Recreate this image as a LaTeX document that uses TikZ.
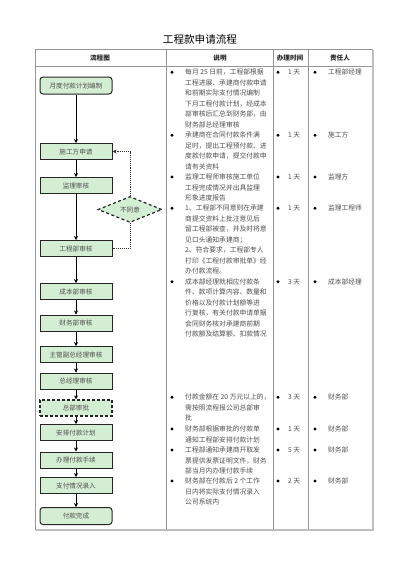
\documentclass[tikz,border=0pt]{standalone}
\usepackage{fontspec}
\setmainfont{Liberation Serif}
\newfontfamily\cjk{Noto Sans CJK SC}
\usetikzlibrary{shapes.geometric,arrows.meta}
\definecolor{nodefill}{RGB}{212,238,212}
\definecolor{txtgray}{RGB}{80,80,80}
\definecolor{tblgray}{RGB}{150,150,150}
\tikzset{
  flowbox/.style={draw=black!85, line width=1pt, fill=nodefill, rectangle,
    minimum width=72pt, minimum height=16pt, inner sep=0pt,
    text=txtgray, font=\cjk\fontsize{6.6}{7}\selectfont},
  roundbox/.style={flowbox, rounded corners=3pt, minimum height=17pt},
  dashbox/.style={flowbox, dash pattern=on 3pt off 2pt, line width=1.2pt},
  decision/.style={diamond, draw=black!85, fill=nodefill, line width=1.2pt,
    dash pattern=on 3pt off 2.5pt, minimum width=64pt, minimum height=25pt,
    inner sep=0pt, text=txtgray, font=\cjk\fontsize{6.6}{7}\selectfont},
  flowarrow/.style={-{Stealth[length=4pt,width=4pt]}, line width=1pt, black},
  backline/.style={densely dotted, line width=0.9pt, black!80},
  desc/.style={anchor=north west, inner sep=0pt, align=left, text=txtgray,
    font=\cjk\fontsize{6.8}{10.5}\selectfont},
  cell/.style={inner sep=0pt, text=txtgray, font=\cjk\fontsize{6.7}{8}\selectfont},
  head/.style={inner sep=0pt, text=black!85, font=\cjk\bfseries\fontsize{6.6}{7}\selectfont},
  bul/.style={fill=black}
}
\begin{document}
\begin{tikzpicture}[x=1pt,y=-1pt]
\useasboundingbox (0,0) rectangle (400,566);
\fill[white] (0,0) rectangle (400,566);
% title
\node[inner sep=0pt, font=\cjk\fontsize{10.6}{12}\selectfont] (title) at (200,39) {工程款申请流程};
% table
\draw[tblgray, line width=0.7pt] (35,49) rectangle (372,529);
\draw[tblgray, line width=0.7pt] (35,66) -- (372,66);
\draw[tblgray, line width=0.7pt] (166,49) -- (166,529);
\draw[tblgray, line width=0.7pt] (273,49) -- (273,529);
\draw[tblgray, line width=0.7pt] (308,49) -- (308,529);
\draw[black!25, line width=1.2pt] (36,530) -- (373,530) -- (373,50);
\node[head] (h1) at (100,58) {流程图};
\node[head] (h2) at (220,58) {说明};
\node[head] (h3) at (290,58) {办理时间};
\node[head] (h4) at (340,58) {责任人};
% flow nodes
\node[roundbox] (n1) at (76,85.5) {月度付款计划编制};
\node[flowbox] (n2) at (76,151.5) {施工方申请};
\node[flowbox] (n3) at (76,185.5) {监理审核};
\node[decision] (d) at (130,209.5) {不同意};
\node[flowbox] (n4) at (76,248.5) {工程部审核};
\node[flowbox] (n5) at (76,291.5) {成本部审核};
\node[flowbox] (n6) at (76,323) {财务部审核};
\node[flowbox] (n7) at (76,354.5) {主管副总经理审核};
\node[flowbox] (n8) at (76,381) {总经理审核};
\node[dashbox] (n9) at (76,408) {总部审批};
\node[flowbox] (n10) at (76,432.5) {安排付款计划};
\node[flowbox] (n11) at (76,460) {办理付款手续};
\node[flowbox] (n12) at (76,485.5) {支付情况录入};
\node[roundbox] (n13) at (76,516) {付款完成};
% arrows
\draw[flowarrow] (n1) -- (n2);
\draw[flowarrow] (n2) -- (n3);
\draw[flowarrow] (n3) -- (n4);
\draw[flowarrow] (n4) -- (n5);
\draw[flowarrow] (n5) -- (n6);
\draw[flowarrow] (n6) -- (n7);
\draw[flowarrow] (n7) -- (n8);
\draw[flowarrow] (n8) -- (n9);
\draw[flowarrow] (n9) -- (n10);
\draw[flowarrow] (n10) -- (n11);
\draw[flowarrow] (n11) -- (n12);
\draw[flowarrow] (n12) -- (n13);
\draw[backline] (n4.east) -| (d.south);
\draw[backline, -{Stealth[length=4pt,width=4pt]}] (d.north) |- (n2.east);
% descriptions
\foreach \y in {72.3,135.3,177,208.3,281.7,397.3,429,450,481}{
  \fill[bul] (172,\y) circle (1.6pt);
  \fill[bul] (278,\y) circle (1.6pt);
  \fill[bul] (315,\y) circle (1.6pt);
}
\node[desc] (t1) at (185,69.0) {每月 25 日前，工程部根据\\工程进展、承建商付款申请\\和前期实际支付情况编制\\下月工程付款计划，经成本\\部审核后汇总到财务部，由\\财务部总经理审核};
\node[desc] (t2) at (185,132.0) {承建商在合同付款条件满\\足时，提出工程预付款、进\\度款付款申请，提交付款申\\请有关资料};
\node[desc] (t3) at (185,173.7) {监理工程师审核施工单位\\工程完成情况并出具监理\\形象进度报告};
\node[desc] (t4) at (185,205.0) {1、工程部不同意则在承建\\商提交资料上批注意见后\\留工程部被查，并及时将意\\见口头通知承建商；\\2、符合要求，工程部专人\\打印《工程付款审批单》经\\办付款流程。};
\node[desc] (t5) at (185,278.4) {成本部经理就相应付款条\\件、款项计算内容、数量和\\价格以及付款计划额等进\\行复核，有关付款申请单据\\会同财务核对承建商前期\\付款额及结算额、扣款情况};
\node[desc] (t6) at (185,394.0) {付款金额在 20 万元以上的，\\需按照流程报公司总部审\\批};
\node[desc] (t7) at (185,425.7) {财务部根据审批的付款单\\通知工程部安排付款计划};
\node[desc] (t8) at (185,446.7) {工程部通知承建商开取发\\票提供发票证明文件，财务\\部当月内办理付款手续};
\node[desc] (t9) at (185,477.7) {财务部在付款后 2 个工作\\日内将实际支付情况录入\\公司系统内};
% times
\node[cell] (d1) at (294,72.3) {1 天};
\node[cell] (d2) at (294,135.3) {1 天};
\node[cell] (d3) at (294,177) {1 天};
\node[cell] (d4) at (294,208.3) {1 天};
\node[cell] (d5) at (294,281.7) {3 天};
\node[cell] (d6) at (294,397.3) {3 天};
\node[cell] (d7) at (294,429) {1 天};
\node[cell] (d8) at (294,450) {5 天};
\node[cell] (d9) at (294,481) {2 天};
% persons
\node[cell, anchor=west] (p1) at (328,72.3) {工程部经理};
\node[cell, anchor=west] (p2) at (328,135.3) {施工方};
\node[cell, anchor=west] (p3) at (328,177) {监理方};
\node[cell, anchor=west] (p4) at (328,208.3) {监理工程师};
\node[cell, anchor=west] (p5) at (328,281.7) {成本部经理};
\node[cell, anchor=west] (p6) at (328,397.3) {财务部};
\node[cell, anchor=west] (p7) at (328,429) {财务部};
\node[cell, anchor=west] (p8) at (328,450) {财务部};
\node[cell, anchor=west] (p9) at (328,481) {财务部};
\end{tikzpicture}
\end{document}
